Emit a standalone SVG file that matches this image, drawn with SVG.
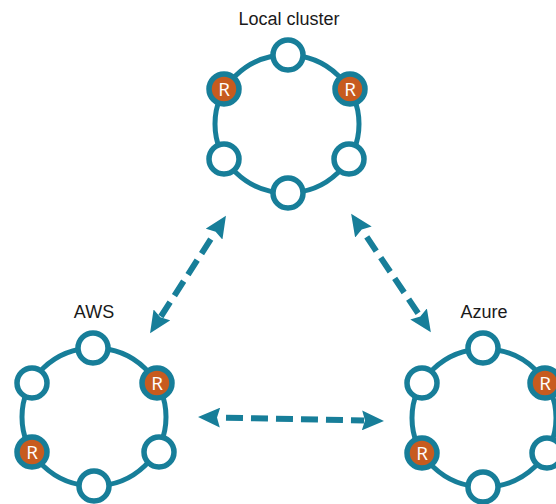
<svg xmlns="http://www.w3.org/2000/svg" width="556" height="504" viewBox="0 0 556 504">
<defs>
<style>
.ring{fill:none;stroke:#177e99;stroke-width:5}
.n{fill:#fff;stroke:#177e99;stroke-width:5.5}
.r{fill:#c75b1f;stroke:#177e99;stroke-width:5.5}
.rt{fill:#fff;font-family:"Open Sans","Liberation Sans",sans-serif;font-size:19px;text-anchor:middle}
.lbl{fill:#1a1a1a;font-family:"Liberation Sans",Arial,sans-serif;font-size:18px;text-anchor:middle}
.c{fill:none;stroke:#177e99;stroke-width:6;stroke-dasharray:17 8;stroke-dashoffset:17}
</style>
<marker id="ah" viewBox="0 0 22 20" refX="2" refY="10" markerWidth="22" markerHeight="20" markerUnits="userSpaceOnUse" orient="auto-start-reverse">
<path d="M0,0 L22,10 L0,20 L3,10 Z" fill="#177e99"/>
</marker>
</defs>
<g id="local-cluster">
<text class="lbl" x="289" y="25">Local cluster</text>
<ellipse class="ring" cx="287" cy="124" rx="72" ry="69"/>
<circle class="n" cx="288" cy="55" r="15"/>
<circle class="r" cx="224" cy="89" r="15"/><text class="rt" x="224" y="96">R</text>
<circle class="r" cx="350" cy="89" r="15"/><text class="rt" x="350" y="96">R</text>
<circle class="n" cx="224" cy="159" r="15"/>
<circle class="n" cx="349" cy="159" r="15"/>
<circle class="n" cx="288" cy="193" r="15"/>
</g>
<g id="aws">
<text class="lbl" x="94" y="318">AWS</text>
<ellipse class="ring" cx="94" cy="417" rx="72" ry="69"/>
<circle class="n" cx="93" cy="348" r="15"/>
<circle class="n" cx="32" cy="383" r="15"/>
<circle class="r" cx="157" cy="383" r="15"/><text class="rt" x="157" y="390">R</text>
<circle class="r" cx="32" cy="452" r="15"/><text class="rt" x="32" y="459">R</text>
<circle class="n" cx="159" cy="452" r="15"/>
<circle class="n" cx="94" cy="486" r="15"/>
</g>
<g id="azure">
<text class="lbl" x="484" y="318">Azure</text>
<ellipse class="ring" cx="484" cy="418" rx="72" ry="69"/>
<circle class="n" cx="483" cy="348" r="15"/>
<circle class="n" cx="422" cy="383" r="15"/>
<circle class="r" cx="545" cy="383" r="15"/><text class="rt" x="545" y="390">R</text>
<circle class="r" cx="422" cy="453" r="15"/><text class="rt" x="422" y="460">R</text>
<circle class="n" cx="547" cy="453" r="15"/>
<circle class="n" cx="483" cy="487" r="15"/>
</g>
<g id="connectors">
<path class="c" d="M215.1,232.5 L160.9,316.5" marker-start="url(#ah)" marker-end="url(#ah)"/>
<path class="c" d="M362.3,230.3 L419.7,315.7" marker-start="url(#ah)" marker-end="url(#ah)"/>
<path class="c" d="M218,417.5 L364,420.5" marker-start="url(#ah)" marker-end="url(#ah)"/>
</g>
</svg>
